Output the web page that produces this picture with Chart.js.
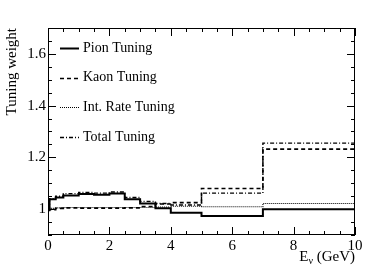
<!DOCTYPE html>
<html>
<head>
<meta charset="utf-8">
<script src="https://cdn.jsdelivr.net/npm/chart.js@4/dist/chart.umd.min.js"></script>
<style>
  html, body { margin: 0; padding: 0; background: #fff; }
  #wrap { width: 374px; height: 280px; }
</style>
</head>
<body>
<div id="wrap"><canvas id="tuningChart" width="374" height="280"></canvas></div>
<script>
  // bin edges (GeV) and tuning weights per bin
  var binEdges = [0, 0.05, 0.25, 0.5, 1, 1.5, 2, 2.5, 3, 3.5, 4, 5, 7, 10];
  var pionWeights    = [1.000, 1.038, 1.045, 1.053, 1.058, 1.056, 1.060, 1.038, 1.022, 1.003, 0.986, 0.973, 1.000];
  var kaonWeights    = [0.995, 0.998, 1.003, 1.005, 1.004, 1.004, 1.004, 1.005, 1.010, 1.020, 1.025, 1.080, 1.232];
  var intRateWeights = [1.000, 1.003, 1.005, 1.006, 1.006, 1.006, 1.006, 1.006, 1.006, 1.008, 1.011, 1.009, 1.022];
  var totalWeights   = [1.000, 1.040, 1.050, 1.060, 1.064, 1.062, 1.066, 1.045, 1.030, 1.022, 1.016, 1.062, 1.255];

  var seriesLabels = ['Pion Tuning', 'Kaon Tuning', 'Int. Rate Tuning', 'Total Tuning'];
  var xTickLabels = ['0', '2', '4', '6', '8', '10'];
  var yTickLabels = ['1', '1.2', '1.4', '1.6'];

  var FONT = '"Liberation Serif", "Times New Roman", serif';

  function histPoints(vals) {
      // one point per left edge, plus the closing right edge
      return binEdges.map(function(e, i) {
          return { x: e, y: vals[Math.min(i, vals.length - 1)] };
      });
  }

  function makeSet(label, vals, width, dash) {
      return {
          label: label,
          data: histPoints(vals),
          stepped: 'before',
          borderColor: '#000',
          borderWidth: width,
          borderDash: dash,
          pointRadius: 0,
          fill: false
      };
  }

  // frame, inward ticks, legend, axis titles
  var rootFrame = {
      id: 'rootFrame',
      afterDraw: function(chart) {
          var ctx = chart.ctx;
          var a = chart.chartArea;
          var xs = chart.scales.x, ys = chart.scales.y;
          ctx.save();
          ctx.strokeStyle = '#000';
          ctx.lineWidth = 1;
          ctx.setLineDash([]);
          ctx.strokeRect(Math.round(a.left) + 0.5, Math.round(a.top) + 0.5,
                         Math.round(a.right - a.left) - 1, Math.round(a.bottom - a.top) - 1);

          ctx.beginPath();
          xs.ticks.forEach(function(t) {
              var px = Math.round(xs.getPixelForValue(t.value)) + 0.5;
              var len = (Math.round(t.value * 10) % 20 === 0) ? 8 : 4;
              ctx.moveTo(px, a.bottom); ctx.lineTo(px, a.bottom - len);
              ctx.moveTo(px, a.top); ctx.lineTo(px, a.top + len);
          });
          ys.ticks.forEach(function(t) {
              var py = Math.round(ys.getPixelForValue(t.value)) + 0.5;
              var len = (Math.round(t.value * 100) % 20 === 0) ? 8 : 4;
              ctx.moveTo(a.left, py); ctx.lineTo(a.left + len, py);
              ctx.moveTo(a.right, py); ctx.lineTo(a.right - len, py);
          });
          ctx.stroke();

          // legend
          ctx.font = '14px ' + FONT;
          ctx.fillStyle = '#000';
          ctx.textBaseline = 'middle';
          ctx.textAlign = 'left';
          chart.data.datasets.forEach(function(ds, i) {
              var y = 48 + i * 29.7;
              ctx.beginPath();
              ctx.lineWidth = ds.borderWidth;
              ctx.setLineDash(ds.borderDash || []);
              ctx.moveTo(60, Math.round(y) + 0.5);
              ctx.lineTo(79, Math.round(y) + 0.5);
              ctx.stroke();
              ctx.setLineDash([]);
              ctx.fillText(ds.label, 83, y);
          });

          // y title
          ctx.save();
          ctx.font = '15px ' + FONT;
          ctx.translate(12, a.top);
          ctx.rotate(-Math.PI / 2);
          ctx.textAlign = 'right';
          ctx.textBaseline = 'middle';
          ctx.fillText('Tuning weight', 0, 0);
          ctx.restore();

          // x title: E_nu (GeV)
          ctx.textBaseline = 'alphabetic';
          ctx.textAlign = 'left';
          ctx.font = '15px ' + FONT;
          var wE = ctx.measureText('E').width;
          var wTail = ctx.measureText(' (GeV)').width;
          ctx.font = '10px ' + FONT;
          var wNu = ctx.measureText('ν').width;
          var x0 = a.right - (wE + wNu + wTail);
          ctx.font = '15px ' + FONT;
          ctx.fillText('E', x0, 261);
          ctx.font = '10px ' + FONT;
          ctx.fillText('ν', x0 + wE, 264);
          ctx.font = '15px ' + FONT;
          ctx.fillText(' (GeV)', x0 + wE + wNu, 261);
          ctx.restore();
      }
  };

  var tuningCanvas = document.getElementById('tuningChart').getContext('2d');
  var tuningChart = new Chart(tuningCanvas, {
      type: 'line',
      data: {
          datasets: [
              makeSet(seriesLabels[0], pionWeights, 2, []),
              makeSet(seriesLabels[1], kaonWeights, 1.6, [4, 3]),
              makeSet(seriesLabels[2], intRateWeights, 1.1, [1, 1]),
              makeSet(seriesLabels[3], totalWeights, 1.4, [4, 2, 1, 2])
          ]
      },
      options: {
          responsive: false,
          animation: false,
          layout: { padding: { top: 28, right: 19, left: 0, bottom: 0 } },
          plugins: {
              legend: { display: false },
              tooltip: { enabled: false }
          },
          scales: {
              x: {
                  type: 'linear',
                  min: 0,
                  max: 10,
                  grid: { display: false, drawTicks: false },
                  border: { display: false },
                  afterFit: function(s) { s.height = 45; },
                  ticks: {
                      stepSize: 0.5,
                      autoSkip: false,
                      maxRotation: 0,
                      padding: 2,
                      color: '#000',
                      font: { family: FONT, size: 15 },
                      callback: function(v) {
                          var lbl = String(Math.round(v));
                          return (Math.abs(v - Math.round(v)) < 1e-6 && xTickLabels.indexOf(lbl) >= 0) ? lbl : '';
                      }
                  }
              },
              y: {
                  min: 0.9,
                  max: 1.7,
                  grid: { display: false, drawTicks: false },
                  border: { display: false },
                  afterFit: function(s) { s.width = 48; },
                  ticks: {
                      stepSize: 0.05,
                      autoSkip: false,
                      padding: 2,
                      color: '#000',
                      font: { family: FONT, size: 15 },
                      callback: function(v) {
                          var r = Math.round(v * 100);
                          var lbl = String(r / 100);
                          return (r % 20 === 0 && yTickLabels.indexOf(lbl) >= 0) ? lbl : '';
                      }
                  }
              }
          }
      },
      plugins: [rootFrame]
  });
</script>
</body>
</html>
